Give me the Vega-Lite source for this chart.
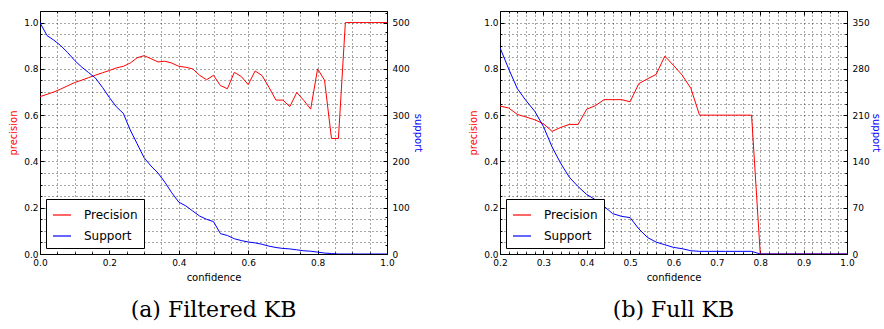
{
  "$schema": "https://vega.github.io/schema/vega-lite/v6.json",
  "padding": {"left": 8, "top": 8, "right": 0, "bottom": 0},
  "datasets": {
    "a": [
      {"c": 0.00, "p": 0.680, "s": 500}, {"c": 0.02, "p": 0.690, "s": 472}, {"c": 0.04, "p": 0.700, "s": 462},
      {"c": 0.06, "p": 0.713, "s": 450}, {"c": 0.08, "p": 0.727, "s": 435}, {"c": 0.10, "p": 0.741, "s": 418},
      {"c": 0.12, "p": 0.751, "s": 404}, {"c": 0.14, "p": 0.762, "s": 392}, {"c": 0.16, "p": 0.773, "s": 380},
      {"c": 0.18, "p": 0.783, "s": 360}, {"c": 0.20, "p": 0.793, "s": 338}, {"c": 0.22, "p": 0.804, "s": 318},
      {"c": 0.24, "p": 0.811, "s": 304}, {"c": 0.26, "p": 0.825, "s": 268}, {"c": 0.28, "p": 0.848, "s": 238},
      {"c": 0.30, "p": 0.857, "s": 208}, {"c": 0.32, "p": 0.844, "s": 190}, {"c": 0.34, "p": 0.830, "s": 175},
      {"c": 0.36, "p": 0.833, "s": 155}, {"c": 0.38, "p": 0.825, "s": 132}, {"c": 0.40, "p": 0.811, "s": 112},
      {"c": 0.42, "p": 0.807, "s": 104}, {"c": 0.44, "p": 0.800, "s": 93}, {"c": 0.46, "p": 0.772, "s": 82},
      {"c": 0.48, "p": 0.753, "s": 75}, {"c": 0.50, "p": 0.772, "s": 70}, {"c": 0.52, "p": 0.728, "s": 44},
      {"c": 0.54, "p": 0.714, "s": 40}, {"c": 0.56, "p": 0.785, "s": 33}, {"c": 0.58, "p": 0.767, "s": 29},
      {"c": 0.60, "p": 0.732, "s": 26}, {"c": 0.62, "p": 0.791, "s": 24}, {"c": 0.64, "p": 0.771, "s": 21},
      {"c": 0.66, "p": 0.720, "s": 17}, {"c": 0.68, "p": 0.665, "s": 14}, {"c": 0.70, "p": 0.665, "s": 12},
      {"c": 0.72, "p": 0.637, "s": 11}, {"c": 0.74, "p": 0.698, "s": 9}, {"c": 0.76, "p": 0.664, "s": 7},
      {"c": 0.78, "p": 0.626, "s": 6}, {"c": 0.80, "p": 0.800, "s": 4}, {"c": 0.82, "p": 0.751, "s": 2},
      {"c": 0.84, "p": 0.499, "s": 1}, {"c": 0.86, "p": 0.499, "s": 0}, {"c": 0.88, "p": 1.0, "s": 0},
      {"c": 0.90, "p": 1.0, "s": 0}, {"c": 0.92, "p": 1.0, "s": 0}, {"c": 0.94, "p": 1.0, "s": 0},
      {"c": 0.96, "p": 1.0, "s": 0}, {"c": 0.98, "p": 1.0, "s": 0}, {"c": 1.00, "p": 1.0, "s": 0}
    ],
    "b": [
      {"c": 0.20, "p": 0.639, "s": 312}, {"c": 0.22, "p": 0.631, "s": 280}, {"c": 0.24, "p": 0.603, "s": 250},
      {"c": 0.26, "p": 0.592, "s": 232}, {"c": 0.28, "p": 0.580, "s": 216}, {"c": 0.30, "p": 0.563, "s": 193},
      {"c": 0.32, "p": 0.530, "s": 162}, {"c": 0.34, "p": 0.547, "s": 137}, {"c": 0.36, "p": 0.560, "s": 116},
      {"c": 0.38, "p": 0.560, "s": 102}, {"c": 0.40, "p": 0.626, "s": 90}, {"c": 0.42, "p": 0.641, "s": 82},
      {"c": 0.44, "p": 0.667, "s": 72}, {"c": 0.46, "p": 0.667, "s": 61}, {"c": 0.48, "p": 0.667, "s": 57},
      {"c": 0.50, "p": 0.658, "s": 55}, {"c": 0.52, "p": 0.736, "s": 38}, {"c": 0.54, "p": 0.757, "s": 25},
      {"c": 0.56, "p": 0.776, "s": 18}, {"c": 0.58, "p": 0.855, "s": 14}, {"c": 0.60, "p": 0.815, "s": 10},
      {"c": 0.62, "p": 0.773, "s": 8}, {"c": 0.64, "p": 0.716, "s": 5}, {"c": 0.66, "p": 0.600, "s": 4},
      {"c": 0.68, "p": 0.600, "s": 4}, {"c": 0.70, "p": 0.600, "s": 4}, {"c": 0.72, "p": 0.600, "s": 4},
      {"c": 0.74, "p": 0.600, "s": 4}, {"c": 0.76, "p": 0.600, "s": 4}, {"c": 0.78, "p": 0.600, "s": 4},
      {"c": 0.80, "p": 0.0, "s": 0}, {"c": 0.82, "p": 0.0, "s": 0}, {"c": 0.84, "p": 0.0, "s": 0},
      {"c": 0.86, "p": 0.0, "s": 0}, {"c": 0.88, "p": 0.0, "s": 0}, {"c": 0.90, "p": 0.0, "s": 0},
      {"c": 0.92, "p": 0.0, "s": 0}, {"c": 0.94, "p": 0.0, "s": 0}, {"c": 0.96, "p": 0.0, "s": 0},
      {"c": 0.98, "p": 0.0, "s": 0}, {"c": 1.00, "p": 0.0, "s": 0}
    ]
  },
  "hconcat": [
    {
      "width": 347,
      "height": 243,
      "data": {"name": "a"},
      "title": {"text": "(a) Filtered KB"},
      "layer": [
        {
          "mark": {"type": "line", "strokeWidth": 1, "clip": true},
          "encoding": {
            "x": {"field": "c", "type": "quantitative", "scale": {"domain": [0, 1], "nice": false, "zero": false},
              "axis": {"orient": "bottom", "title": "confidence", "labelPadding": 8, "titlePadding": 3,
                "values": [0,0.05,0.1,0.15,0.2,0.25,0.3,0.35,0.4,0.45,0.5,0.55,0.6,0.65,0.7,0.75,0.8,0.85,0.9,0.95,1],
                "labelExpr": "abs(datum.value*5-round(datum.value*5))<0.001 ? format(datum.value,'.1f') : ''",
                "tickSize": {"condition": {"test": "abs(datum.value*5-round(datum.value*5))<0.001", "value": -4}, "value": -2}}},
            "y": {"field": "p", "type": "quantitative", "scale": {"domain": [0, 1.05], "nice": false, "zero": false},
              "axis": {"orient": "left", "title": "precision", "titleColor": "#ff0000", "labelPadding": 6, "titlePadding": 5,
                "values": [0,0.05,0.1,0.15,0.2,0.25,0.3,0.35,0.4,0.45,0.5,0.55,0.6,0.65,0.7,0.75,0.8,0.85,0.9,0.95,1],
                "labelExpr": "abs(datum.value*5-round(datum.value*5))<0.001 ? format(datum.value,'.1f') : ''",
                "tickSize": {"condition": {"test": "abs(datum.value*5-round(datum.value*5))<0.001", "value": -4}, "value": -2}}},
            "color": {"datum": "Precision", "type": "nominal", "scale": {"domain": ["Precision", "Support"], "range": ["#ff0000", "#0000ff"]}}
          }
        },
        {
          "mark": {"type": "line", "strokeWidth": 1, "clip": true},
          "encoding": {
            "x": {"field": "c", "type": "quantitative",
              "axis": {"orient": "top", "title": null, "labels": false, "grid": false,
                "values": [0,0.05,0.1,0.15,0.2,0.25,0.3,0.35,0.4,0.45,0.5,0.55,0.6,0.65,0.7,0.75,0.8,0.85,0.9,0.95,1],
                "tickSize": {"condition": {"test": "abs(datum.value*5-round(datum.value*5))<0.001", "value": -4}, "value": -2}}},
            "y": {"field": "s", "type": "quantitative", "scale": {"domain": [0, 525], "nice": false, "zero": false},
              "axis": {"orient": "right", "title": "support", "titleColor": "#0000ff", "grid": false, "labelPadding": 9, "titlePadding": 3,
                "values": [0,20,40,60,80,100,120,140,160,180,200,220,240,260,280,300,320,340,360,380,400,420,440,460,480,500,520],
                "labelExpr": "datum.value % 100 == 0 ? format(datum.value,'d') : ''",
                "tickSize": {"condition": {"test": "datum.value % 100 == 0", "value": -4}, "value": -2}}},
            "color": {"datum": "Support", "type": "nominal"}
          }
        }
      ],
      "resolve": {"scale": {"y": "independent"}, "axis": {"x": "independent"}}
    },
    {
      "width": 347,
      "height": 243,
      "data": {"name": "b"},
      "title": {"text": "(b) Full KB"},
      "layer": [
        {
          "mark": {"type": "line", "strokeWidth": 1, "clip": true},
          "encoding": {
            "x": {"field": "c", "type": "quantitative", "scale": {"domain": [0.2, 1], "nice": false, "zero": false},
              "axis": {"orient": "bottom", "title": "confidence", "labelPadding": 8, "titlePadding": 3,
                "values": [0.2,0.22,0.24,0.26,0.28,0.3,0.32,0.34,0.36,0.38,0.4,0.42,0.44,0.46,0.48,0.5,0.52,0.54,0.56,0.58,0.6,0.62,0.64,0.66,0.68,0.7,0.72,0.74,0.76,0.78,0.8,0.82,0.84,0.86,0.88,0.9,0.92,0.94,0.96,0.98,1],
                "labelExpr": "abs(datum.value*10-round(datum.value*10))<0.001 ? format(datum.value,'.1f') : ''",
                "tickSize": {"condition": {"test": "abs(datum.value*10-round(datum.value*10))<0.001", "value": -4}, "value": -2}}},
            "y": {"field": "p", "type": "quantitative", "scale": {"domain": [0, 1.05], "nice": false, "zero": false},
              "axis": {"orient": "left", "title": "precision", "titleColor": "#ff0000", "labelPadding": 6, "titlePadding": 5,
                "values": [0,0.05,0.1,0.15,0.2,0.25,0.3,0.35,0.4,0.45,0.5,0.55,0.6,0.65,0.7,0.75,0.8,0.85,0.9,0.95,1],
                "labelExpr": "abs(datum.value*5-round(datum.value*5))<0.001 ? format(datum.value,'.1f') : ''",
                "tickSize": {"condition": {"test": "abs(datum.value*5-round(datum.value*5))<0.001", "value": -4}, "value": -2}}},
            "color": {"datum": "Precision", "type": "nominal", "scale": {"domain": ["Precision", "Support"], "range": ["#ff0000", "#0000ff"]}}
          }
        },
        {
          "mark": {"type": "line", "strokeWidth": 1, "clip": true},
          "encoding": {
            "x": {"field": "c", "type": "quantitative",
              "axis": {"orient": "top", "title": null, "labels": false, "grid": false,
                "values": [0.2,0.22,0.24,0.26,0.28,0.3,0.32,0.34,0.36,0.38,0.4,0.42,0.44,0.46,0.48,0.5,0.52,0.54,0.56,0.58,0.6,0.62,0.64,0.66,0.68,0.7,0.72,0.74,0.76,0.78,0.8,0.82,0.84,0.86,0.88,0.9,0.92,0.94,0.96,0.98,1],
                "tickSize": {"condition": {"test": "abs(datum.value*10-round(datum.value*10))<0.001", "value": -4}, "value": -2}}},
            "y": {"field": "s", "type": "quantitative", "scale": {"domain": [0, 367.5], "nice": false, "zero": false},
              "axis": {"orient": "right", "title": "support", "titleColor": "#0000ff", "grid": false, "labelPadding": 9, "titlePadding": 1,
                "values": [0,17.5,35,52.5,70,87.5,105,122.5,140,157.5,175,192.5,210,227.5,245,262.5,280,297.5,315,332.5,350],
                "labelExpr": "abs(datum.value/70-round(datum.value/70))<0.001 ? format(datum.value,'d') : ''",
                "tickSize": {"condition": {"test": "abs(datum.value/70-round(datum.value/70))<0.001", "value": -4}, "value": -2}}},
            "color": {"datum": "Support", "type": "nominal"}
          }
        }
      ],
      "resolve": {"scale": {"y": "independent"}, "axis": {"x": "independent"}}
    }
  ],
  "spacing": 45,
  "resolve": {"scale": {"color": "independent"}, "legend": {"color": "independent"}},
  "config": {
    "font": "DejaVu Sans",
    "view": {"stroke": "#000000", "strokeWidth": 1},
    "axis": {
      "domain": false,
      "labelFont": "DejaVu Sans", "labelFontSize": 9, "labelColor": "#000000", "labelPadding": 4,
      "labelFlush": false, "labelOverlap": false,
      "titleFont": "DejaVu Sans", "titleFontSize": 10, "titleFontWeight": "normal", "titleColor": "#000000",
      "titlePadding": 6,
      "tickColor": "#000000", "tickWidth": 1,
      "grid": true, "gridColor": "#000000", "gridDash": [1, 3], "gridWidth": 0.7, "gridOpacity": 1
    },
    "legend": {
      "orient": "bottom-left", "offset": 6, "title": null,
      "symbolType": "stroke", "symbolSize": 324, "symbolStrokeWidth": 1.2,
      "labelFont": "DejaVu Sans", "labelFontSize": 12, "labelColor": "#000000", "labelOffset": 12,
      "rowPadding": 5, "padding": 6, "strokeColor": "#000000", "fillColor": "#ffffff", "cornerRadius": 0
    },
    "title": {"orient": "bottom", "font": "DejaVu Serif", "fontSize": 22, "fontWeight": "normal", "color": "#000000", "offset": 18, "anchor": "middle"}
  }
}
